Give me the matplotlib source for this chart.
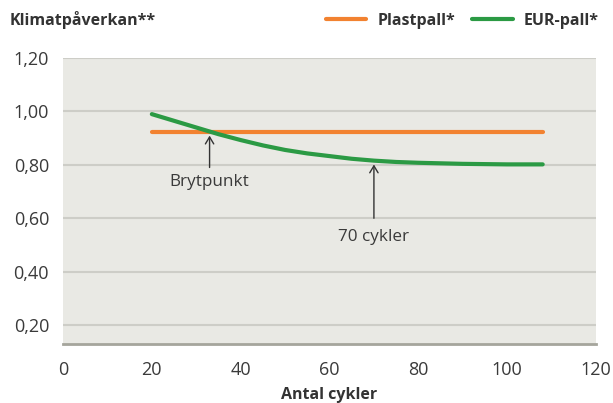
import matplotlib
matplotlib.use("Agg")
import matplotlib.pyplot as plt
from matplotlib.ticker import FuncFormatter

plt.rcParams['font.family'] = ['Open Sans', 'DejaVu Sans']

# Data
plast_x = [20, 108]
plast_y = [0.925, 0.925]
eur_x = [20, 25, 30, 33, 35, 40, 45, 50, 55, 60, 65, 70, 75, 80, 85, 90, 95, 100, 108]
eur_y = [0.99, 0.965, 0.94, 0.925, 0.915, 0.893, 0.873, 0.856, 0.843, 0.833, 0.823, 0.816, 0.811, 0.808, 0.806, 0.804, 0.803, 0.802, 0.802]
x_ticks = [0, 20, 40, 60, 80, 100, 120]
y_ticks = [0.20, 0.40, 0.60, 0.80, 1.00, 1.20]
annot_labels = ["Brytpunkt", "70 cykler"]
annot_x = [33, 70]
annot_tip = [0.92, 0.812]
annot_base = [0.78, 0.59]
annot_text_y = [0.735, 0.53]

text_c = '#333333'
fig = plt.figure(figsize=(6.13, 4.03), dpi=100)
ax = fig.add_axes([63/613, 1-344/403, (596-63)/613, (344-58)/403])
ax.set_facecolor('#e9e9e4')
ax.set_xlim(0, 120)
ax.set_ylim(0.13, 1.20)
ax.set_xticks(x_ticks)
ax.set_yticks(y_ticks)
ax.yaxis.set_major_formatter(FuncFormatter(lambda v, p: f"{v:.2f}".replace('.', ',')))
for s in ['top', 'right', 'left']:
    ax.spines[s].set_visible(False)
ax.spines['bottom'].set_color('#a5a59c')
ax.spines['bottom'].set_linewidth(2)
ax.tick_params(length=0, labelsize=13, colors='#3a3a3a')
ax.tick_params(axis='x', pad=12)
ax.tick_params(axis='y', pad=10)
ax.grid(axis='y', color='#cdcdc7', linewidth=1.5)
ax.set_axisbelow(True)

ax.plot(plast_x, plast_y, color='#f28230', linewidth=3, solid_capstyle='round', label='Plastpall*')
ax.plot(eur_x, eur_y, color='#2b9a44', linewidth=3, solid_capstyle='round', label='EUR-pall*')

for lab, xx, tip, base, ty in zip(annot_labels, annot_x, annot_tip, annot_base, annot_text_y):
    ax.annotate('', xy=(xx, tip), xytext=(xx, base),
                arrowprops=dict(arrowstyle='->,head_length=0.5,head_width=0.3', color='#333333', lw=1))
    ax.text(xx, ty, lab, ha='center', va='center', fontsize=12.3, color='#3a3a3a')

ax.set_xlabel('Antal cykler', fontsize=11.5, fontweight='bold', color=text_c, labelpad=6)
fig.text(10/613, 1-20/403, 'Klimatpåverkan**', fontsize=11.5, fontweight='bold', color=text_c, va='center')

leg = fig.legend(loc='center right', bbox_to_anchor=(0.99, 1-21/403), ncol=2, frameon=False,
                 fontsize=11.5, handlelength=2.55, columnspacing=1.05, handletextpad=0.7, borderaxespad=0.1)
for t in leg.get_texts():
    t.set_fontweight('bold')
    t.set_color(text_c)

fig.savefig('out.png', dpi=100, facecolor='white')
